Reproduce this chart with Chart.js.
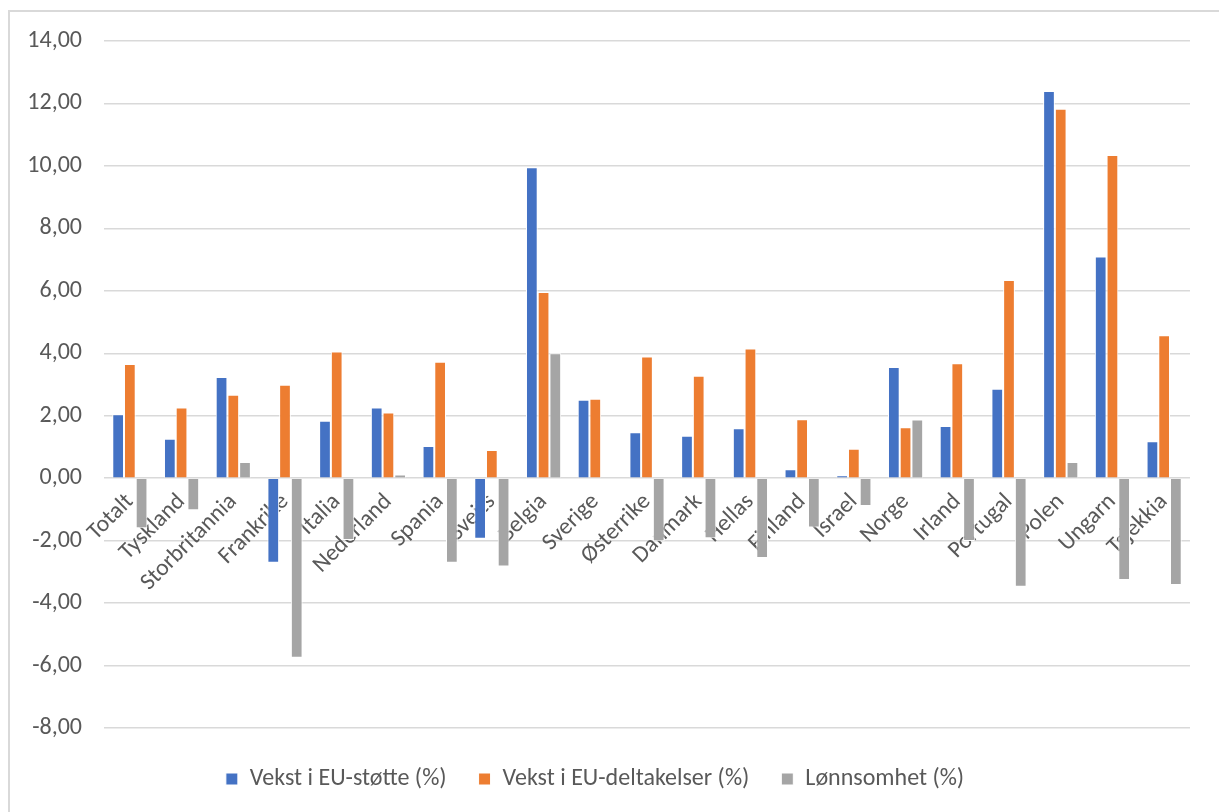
<!DOCTYPE html>
<html>
<head>
<meta charset="utf-8">
<script src="https://cdn.jsdelivr.net/npm/chart.js@4"></script>
<style>
    body { margin: 0; background: #fff; }
    #frame {
        position: absolute;
        left: 8px;
        top: 10px;
        width: 1220px;
        height: 820px;
        border-left: 2px solid #d9d9d9;
        border-top: 2px solid #d9d9d9;
    }
    #wrap { position: absolute; left: 0; top: 0; width: 1219px; height: 812px; }
</style>
</head>
<body>
<div id="frame"></div>
<div id="wrap"><canvas id="euChart"></canvas></div>
<script>
const countries = [
    "Totalt", "Tyskland", "Storbritannia", "Frankrike", "Italia", "Nederland",
    "Spania", "Sveits", "Belgia", "Sverige", "Østerrike", "Danmark", "Hellas",
    "Finland", "Israel", "Norge", "Irland", "Portugal", "Polen", "Ungarn", "Tsjekkia",
];

const euSupportGrowth = [
    2.05, 1.26, 3.24, -2.71, 1.84, 2.26, 1.03, -1.94, 9.96, 2.51, 1.47,
    1.36, 1.60, 0.29, 0.09, 3.56, 1.67, 2.86, 12.40, 7.10, 1.18,
];

const euParticipationGrowth = [
    3.66, 2.26, 2.67, 2.99, 4.06, 2.10, 3.73, 0.90, 5.96, 2.54, 3.90,
    3.28, 4.15, 1.89, 0.94, 1.63, 3.68, 6.35, 11.83, 10.35, 4.58,
];

const profitability = [
    -1.60, -1.03, 0.52, -5.75, -1.98, 0.12, -2.71, -2.83, 4.00, 0, -2.02,
    -1.92, -2.56, -1.58, -0.89, 1.88, -2.01, -3.48, 0.52, -3.26, -3.42,
];

const seriesNames = ["Vekst i EU-støtte (%)", "Vekst i EU-deltakelser (%)", "Lønnsomhet (%)"];
const seriesColors = ["#4472C4", "#ED7D31", "#A5A5A5"];
const yTicks = [14, 12, 10, 8, 6, 4, 2, 0, -2, -4, -6, -8];

const fontFamily = 'Carlito, Calibri, "Liberation Sans", Arial, sans-serif';
const textColor = "#595959";

function makeDataset(i, values) {
    return {
        label: seriesNames[i],
        data: values,
        backgroundColor: seriesColors[i],
        borderColor: "#ffffff",
        borderWidth: 1,
        categoryPercentage: 0.68,
        barPercentage: 1.0,
    };
}

function initChart() {
    const ctx = document.getElementById("euChart").getContext("2d");
    new Chart(ctx, {
        type: "bar",
        data: {
            labels: countries,
            datasets: [
                makeDataset(0, euSupportGrowth),
                makeDataset(1, euParticipationGrowth),
                makeDataset(2, profitability),
            ],
        },
        options: {
            responsive: true,
            maintainAspectRatio: false,
            animation: false,
            layout: { padding: { top: 41, right: 29, bottom: 11, left: 0 } },
            scales: {
                x: {
                    position: { y: 0 },
                    grid: { display: false },
                    border: { display: false },
                    ticks: {
                        color: textColor,
                        font: { family: fontFamily, size: 23.5 },
                        minRotation: 45,
                        maxRotation: 45,
                        autoSkip: false,
                        padding: 2,
                    },
                },
                y: {
                    min: Math.min(...yTicks),
                    max: Math.max(...yTicks),
                    afterFit: (scale) => { scale.width = 104; },
                    afterBuildTicks: (scale) => {
                        scale.ticks = yTicks.map((v) => ({ value: v }));
                    },
                    grid: { color: "#d9d9d9", lineWidth: 1.5, drawTicks: false },
                    border: { display: false },
                    ticks: {
                        color: textColor,
                        font: { family: fontFamily, size: 24 },
                        padding: 22,
                        callback: (v) => v.toFixed(2).replace(".", ","),
                    },
                },
            },
            plugins: {
                legend: {
                    position: "bottom",
                    // empty title only adds space between plot and legend
                    title: { display: true, text: "", font: { size: 5 }, padding: { top: 0.5, bottom: 0.5 } },
                    labels: {
                        color: textColor,
                        font: { family: fontFamily, size: 24 },
                        boxWidth: 12,
                        boxHeight: 12,
                        padding: 32,
                    },
                },
                tooltip: { enabled: false },
            },
        },
    });
}

document.addEventListener("DOMContentLoaded", () => {
    initChart();
});
</script>
</body>
</html>
